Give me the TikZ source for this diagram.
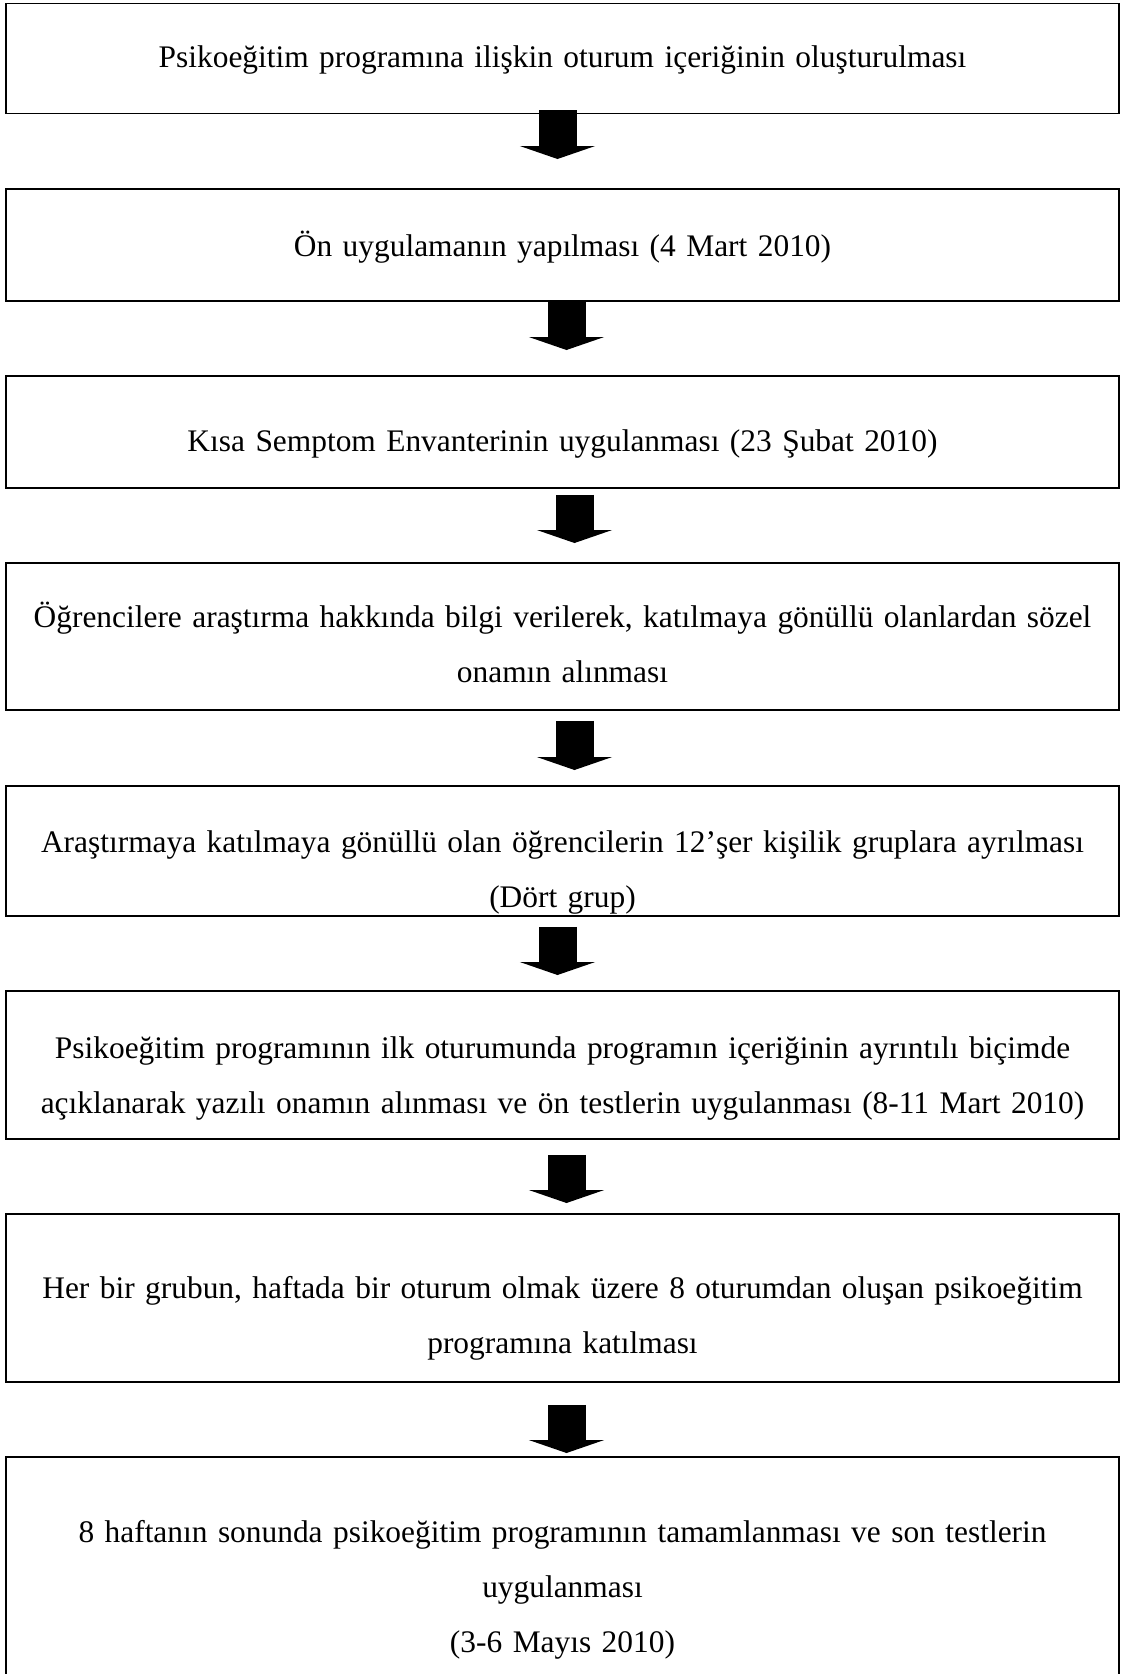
\documentclass[tikz,border=0pt]{standalone}
\usepackage{fontspec}
\setmainfont{Liberation Serif}
\usetikzlibrary{arrows.meta}
\tikzset{
  stage/.style={draw,line width=1.8pt,anchor=north,minimum width=1113pt,inner xsep=0pt,inner ysep=0pt,text width=1100pt,align=center},
  flow/.style={line width=38pt,-{Triangle[width=75pt,length=13pt]}}
}
\begin{document}
\begin{tikzpicture}[x=1pt,y=-1pt,font=\fontsize{31.4}{55}\selectfont]
\useasboundingbox (0,0) rectangle (1121,1674);
\node[stage,text height=64.5pt,text depth=45.5pt] (b1) at (562.5,2.5) {Psikoeğitim programına ilişkin oturum içeriğinin oluşturulması};
\node[stage,text height=68pt,text depth=44pt] (b2) at (562.5,188) {Ön uygulamanın yapılması (4 Mart 2010)};
\node[stage,text height=76pt,text depth=36pt] (b3) at (562.5,375) {Kısa Semptom Envanterinin uygulanması (23 Şubat 2010)};
\node[stage,text height=65pt,text depth=82pt] (b4) at (562.5,562) {Öğrencilere araştırma hakkında bilgi verilerek, katılmaya gönüllü olanlardan sözel\\onamın alınması};
\node[stage,text height=67pt,text depth=63pt] (b5) at (562.5,785) {Araştırmaya katılmaya gönüllü olan öğrencilerin 12’şer kişilik gruplara ayrılması\\(Dört grup)};
\node[stage,text height=68pt,text depth=80pt] (b6) at (562.5,990) {Psikoeğitim programının ilk oturumunda programın içeriğinin ayrıntılı biçimde\\açıklanarak yazılı onamın alınması ve ön testlerin uygulanması (8-11 Mart 2010)};
\node[stage,text height=85pt,text depth=83pt] (b7) at (562.5,1213) {Her bir grubun, haftada bir oturum olmak üzere 8 oturumdan oluşan psikoeğitim\\programına katılması};
\node[stage,text height=86pt,text depth=240pt] (b8) at (562.5,1456) {8 haftanın sonunda psikoeğitim programının tamamlanması ve son testlerin\\uygulanması\\(3-6 Mayıs 2010)};
\foreach \a/\b/\dx/\s/\e in {b1/b2/-5/-4/29, b2/b3/4/0/25, b3/b4/12/6/19, b4/b5/12/10/15, b5/b6/-5/10/15, b6/b7/4/15/10, b7/b8/4/22/3}
\draw[flow,shorten <=\s pt,shorten >=\e pt] ([xshift=\dx pt]\a.south) -- ([xshift=\dx pt]\b.north);
\end{tikzpicture}
\end{document}
